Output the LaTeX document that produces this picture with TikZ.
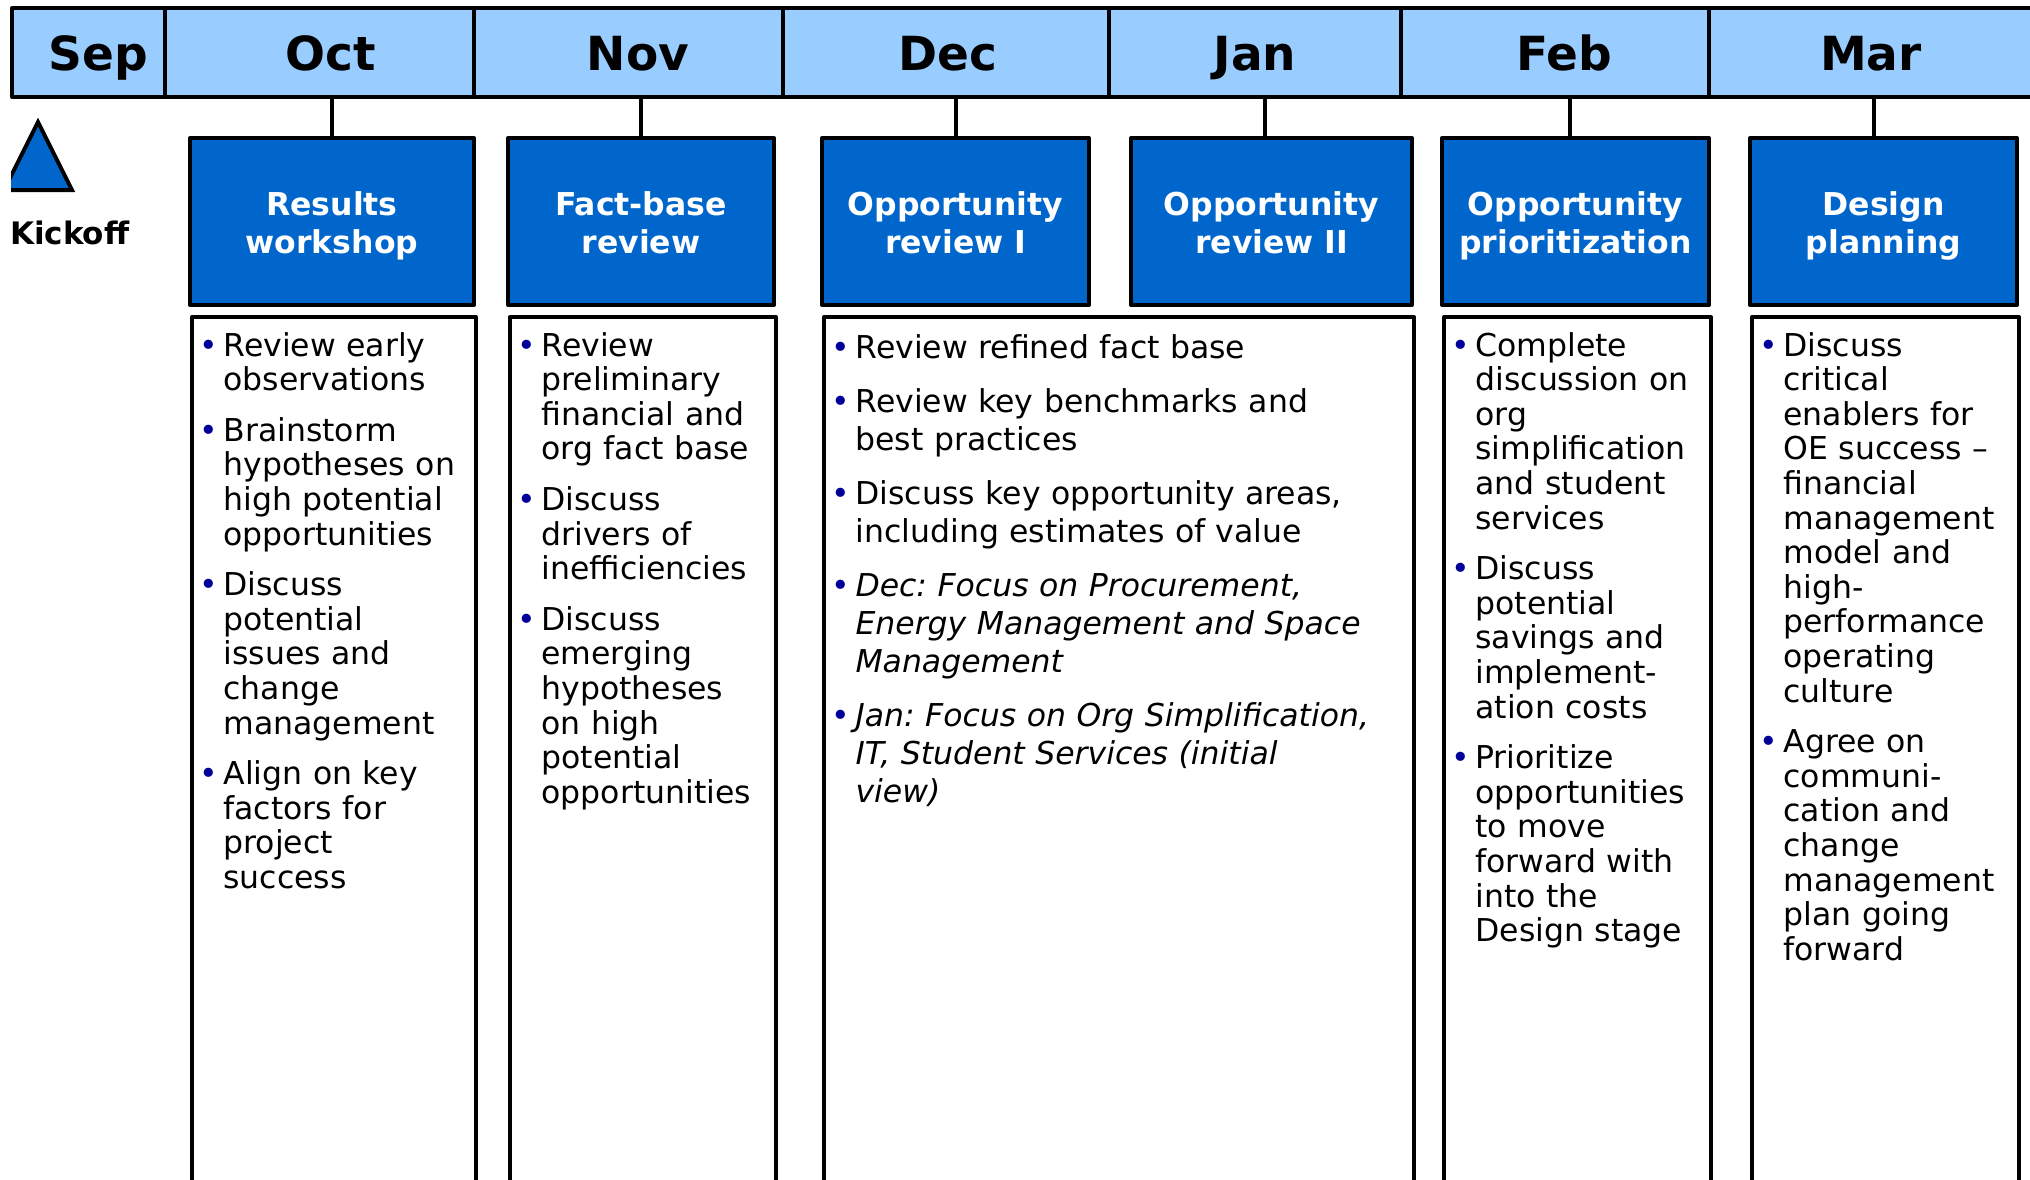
\documentclass[tikz,border=0pt]{standalone}
\usepackage{fontspec}
\setmainfont{DejaVu Sans}
\frenchspacing
\definecolor{barblue}{HTML}{99CCFF}
\definecolor{boxblue}{HTML}{0066CC}
\definecolor{dotblue}{HTML}{000099}
\newcommand{\dotitem}{\leavevmode\llap{\makebox[29pt]{\textcolor{dotblue}{\textbullet}}}}
\begin{document}
\begin{tikzpicture}[x=1pt,y=-1pt,line width=4pt,line join=round,line cap=round,
  month/.style={anchor=base,inner sep=0pt,font=\bfseries\fontsize{47}{50}\selectfont},
  phase/.style={draw,fill=boxblue,text=white,align=center,inner sep=0pt,text height=34pt,text depth=46pt,
    font=\bfseries\fontsize{31.5}{38}\selectfont},
  notes/.style={draw,fill=white,inner sep=0pt,anchor=north west},
  list/.style={anchor=base west,align=left,inner sep=0pt,font=\fontsize{31.5}{34.6}\selectfont}]
\clip (0,0) rectangle (2030,1180);
% month bar
\draw[fill=barblue] (12,8) rectangle (2045,97);
\foreach \x in {165,474,783,1109,1401,1709}
  \draw (\x,8) -- (\x,97);
\coordinate (barbottom) at (0,97);
\foreach \m/\x/\t in {sep/98/Sep,oct/331/Oct,nov/638/Nov,dec/948/Dec,jan/1255/Jan,feb/1564/Feb,mar/1871/Mar}
  \node[month] (\m) at (\x,71) {\t};
% kickoff
\begin{scope}
  \clip (11,0) rectangle (200,300);
  \draw[fill=boxblue,line join=miter] (38,122) -- (72,190) -- (4,190) -- cycle;
\end{scope}
\node[anchor=base west,inner sep=0pt,font=\bfseries\fontsize{31}{34}\selectfont] (kickoff) at (8,244) {Kickoff};
% phases
\foreach \n/\l/\r/\d/\t in {results/190/474/0/{Results\\workshop},factbase/508/774/0/{Fact-base\\review},
    oppone/822/1089/0/{Opportunity\\review I},opptwo/1131/1412/-7/{Opportunity\\review II},
    prior/1442/1709/-6/{Opportunity\\prioritization},design/1750/2017/-10/{Design\\planning}}{
  \pgfmathsetmacro\w{\r-\l-8}
  \node[phase,text width=\w pt,minimum width=\r-\l,minimum height=167] (\n) at ({(\l+\r)/2},221.5) {\t};
  \draw ([xshift=\d pt]\n.north) -- ([xshift=\d pt]\n.north |- barbottom);
}
% note boxes
\foreach \n/\l/\r in {octnotes/190/474,novnotes/508/774,decnotes/822/1412,febnotes/1442/1709,marnotes/1750/2017}
  \node[notes,minimum width=\r-\l,minimum height=900] (\n) at (\l,315) {};
\node[list,text width=260pt] (octlist) at ([xshift=31.5pt,yshift=-41pt]octnotes.north west)
  {\dotitem Review early\\observations\\[16pt]
   \dotitem Brainstorm\\hypotheses on\\high potential\\opportunities\\[16pt]
   \dotitem Discuss\\potential\\issues and\\change\\management\\[16pt]
   \dotitem Align on key\\factors for\\project\\success};
\node[list,text width=250pt] (novlist) at ([xshift=31.5pt,yshift=-41pt]novnotes.north west)
  {\dotitem Review\\preliminary\\financial and\\org fact base\\[16pt]
   \dotitem Discuss\\drivers of\\inefficiencies\\[16pt]
   \dotitem Discuss\\emerging\\hypotheses\\on high\\potential\\opportunities};
\node[list,text width=570pt,font=\fontsize{31.5}{38}\selectfont] (declist) at ([xshift=31.5pt,yshift=-43pt]decnotes.north west)
  {\dotitem Review refined fact base\\[16pt]
   \dotitem Review key benchmarks and\\best practices\\[16pt]
   \dotitem Discuss key opportunity areas,\\including estimates of value\\[16pt]
   \dotitem {\itshape Dec: Focus on Procurement,\\Energy Management and Space\\Management}\\[16pt]
   \dotitem {\itshape Jan: Focus on Org Simplification,\\IT, Student Services (initial\\view)}};
\node[list,text width=250pt] (feblist) at ([xshift=31.5pt,yshift=-41pt]febnotes.north west)
  {\dotitem Complete\\discussion on\\org\\simplification\\and student\\services\\[16pt]
   \dotitem Discuss\\potential\\savings and\\implement-\\ation costs\\[16pt]
   \dotitem Prioritize\\opportunities\\to move\\forward with\\into the\\Design stage};
\node[list,text width=250pt] (marlist) at ([xshift=31.5pt,yshift=-41pt]marnotes.north west)
  {\dotitem Discuss\\critical\\enablers for\\OE success --\\financial\\management\\model and\\high-\\performance\\operating\\culture\\[16pt]
   \dotitem Agree on\\communi-\\cation and\\change\\management\\plan going\\forward};
\end{tikzpicture}
\end{document}
